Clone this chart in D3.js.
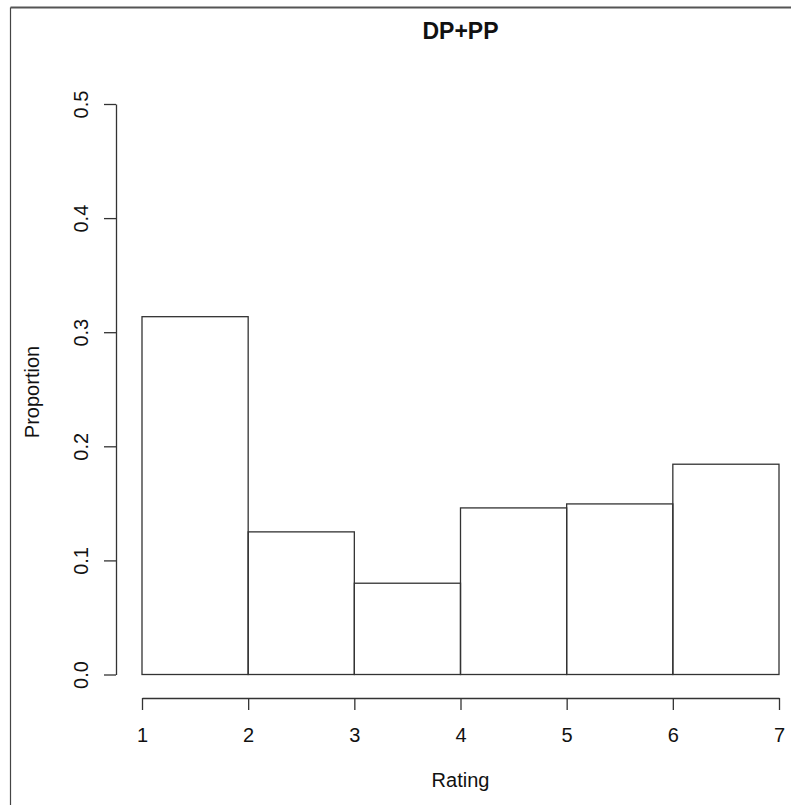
<!DOCTYPE html>
<html>
<head>
<meta charset="utf-8">
<script src="https://cdn.jsdelivr.net/npm/d3@7"></script>
<style>
  html, body { margin: 0; padding: 0; background: #fff; }
  svg { display: block; }
  text { font-family: "Liberation Sans", Arial, Helvetica, sans-serif; fill: #111; }
</style>
</head>
<body>
<script>
// Data
const binStarts = [1, 2, 3, 4, 5, 6];
const binEnds = [2, 3, 4, 5, 6, 7];
const proportions = [0.3136, 0.125, 0.080, 0.146, 0.1495, 0.1843];
const xTicks = [1, 2, 3, 4, 5, 6, 7];
const yTicks = [0.0, 0.1, 0.2, 0.3, 0.4, 0.5];
const titleText = "DP+PP";
const xLabel = "Rating";
const yLabel = "Proportion";

const W = 791, H = 805;
const svg = d3.select("body").append("svg").attr("width", W).attr("height", H);

const stroke = "#333";

// frame border (top and left visible)
svg.append("line").attr("x1", 10.5).attr("x2", W).attr("y1", 7.5).attr("y2", 7.5)
  .attr("stroke", "#555").attr("stroke-width", 2);
svg.append("line").attr("x1", 10.5).attr("x2", 10.5).attr("y1", 7.5).attr("y2", H)
  .attr("stroke", "#444").attr("stroke-width", 1.2);

const x = d3.scaleLinear().domain([1, 7]).range([142, 779]);
const y = d3.scaleLinear().domain([0, 0.5]).range([674.5, 104]);

// bars
svg.append("g").selectAll("rect").data(proportions).join("rect")
  .attr("x", (d, i) => x(binStarts[i]))
  .attr("width", (d, i) => x(binEnds[i]) - x(binStarts[i]))
  .attr("y", d => y(d))
  .attr("height", d => y(0) - y(d))
  .attr("fill", "none")
  .attr("stroke", stroke)
  .attr("stroke-width", 1.3);

// x axis
const gx = svg.append("g").attr("transform", "translate(0,698)")
  .call(d3.axisBottom(x).tickValues(xTicks).tickSize(12).tickSizeOuter(0).tickFormat(d3.format("d")));
gx.select(".domain").attr("stroke", stroke).attr("stroke-width", 1.3);
gx.selectAll(".tick line").attr("stroke", stroke).attr("stroke-width", 1.3);
gx.selectAll(".tick text").attr("y", 44).attr("dy", null)
  .style("font-size", "20px").style("font-family", "Liberation Sans, Arial, sans-serif").attr("fill", "#111");

// y axis
const gy = svg.append("g").attr("transform", "translate(116,0)")
  .call(d3.axisLeft(y).tickValues(yTicks).tickSize(12).tickSizeOuter(0).tickFormat(d3.format(".1f")));
gy.select(".domain").attr("stroke", stroke).attr("stroke-width", 1.3);
gy.selectAll(".tick line").attr("stroke", stroke).attr("stroke-width", 1.3);
gy.selectAll(".tick text")
  .attr("transform", "rotate(-90)")
  .attr("x", 0).attr("y", -28).attr("dy", null)
  .attr("text-anchor", "middle")
  .style("font-size", "20px").style("font-family", "Liberation Sans, Arial, sans-serif").attr("fill", "#111");

// title
svg.append("text").attr("x", 460.5).attr("y", 39).attr("text-anchor", "middle")
  .style("font-size", "23px").style("font-weight", "bold").text(titleText);

// x label
svg.append("text").attr("x", 460.5).attr("y", 787).attr("text-anchor", "middle")
  .style("font-size", "20px").text(xLabel);

// y label
svg.append("text").attr("transform", "translate(39,392) rotate(-90)").attr("text-anchor", "middle")
  .style("font-size", "20px").text(yLabel);
</script>
</body>
</html>
